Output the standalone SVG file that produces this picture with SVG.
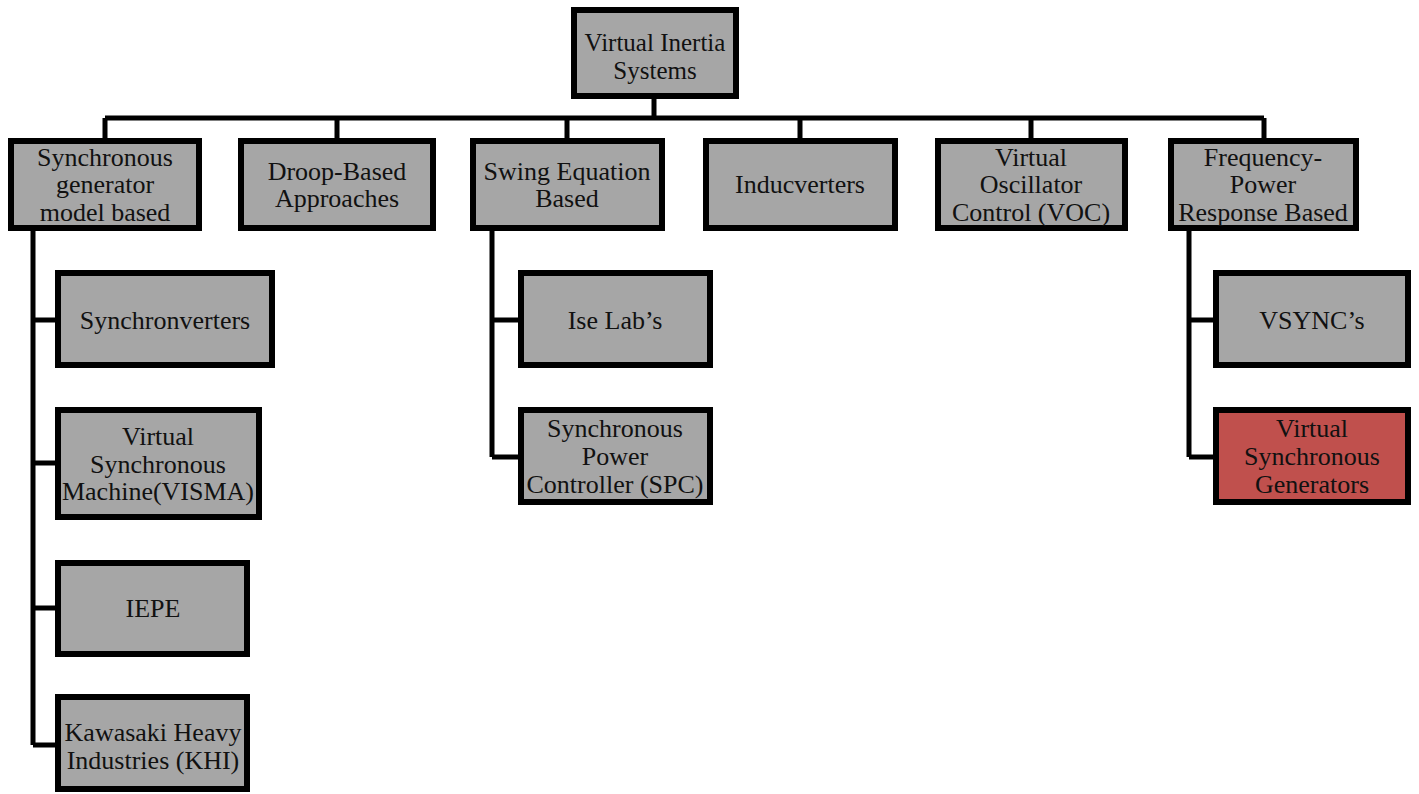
<svg xmlns="http://www.w3.org/2000/svg" width="1419" height="794" viewBox="0 0 1419 794">
<style>
.n{fill:#a6a6a6;stroke:#000;stroke-width:6}
.r{fill:#c0504d;stroke:#000;stroke-width:6}
.t{font-family:"Liberation Serif","DejaVu Serif",serif;font-size:26px;fill:#111;text-anchor:middle}
.c{fill:none;stroke:#000;stroke-width:5}
</style>
<rect width="1419" height="794" fill="#fff"/>
<g id="connectors">
<path class="c" d="M654 97V118M105 118H1264M105 118V138M337 118V138M567 118V138M800 118V138M1031 118V138M1264 118V138"/>
<path class="c" d="M33 229V745M33 320H55M33 463H55M33 608H55M33 745H55"/>
<path class="c" d="M492 229V457M492 320H518M492 457H518"/>
<path class="c" d="M1189 229V457M1189 320H1213M1189 457H1213"/>
</g>
<g id="root"><rect class="n" x="574" y="10" width="162" height="86"/><text class="t" x="655" y="51" style="font-size:25px">Virtual Inertia</text><text class="t" x="655" y="79" style="font-size:25px">Systems</text></g>
<g id="sgmb"><rect class="n" x="11" y="141" width="188" height="87"/><text class="t" x="105" y="166">Synchronous</text><text class="t" x="105" y="193">generator</text><text class="t" x="105" y="221">model based</text></g>
<g id="droop"><rect class="n" x="241" y="141" width="192" height="87"/><text class="t" x="337" y="180">Droop-Based</text><text class="t" x="337" y="207">Approaches</text></g>
<g id="swing"><rect class="n" x="473" y="141" width="189" height="87"/><text class="t" x="567" y="180">Swing Equation</text><text class="t" x="567" y="207">Based</text></g>
<g id="induc"><rect class="n" x="706" y="141" width="189" height="87"/><text class="t" x="800" y="193">Inducverters</text></g>
<g id="voc"><rect class="n" x="938" y="141" width="187" height="87"/><text class="t" x="1031" y="166">Virtual</text><text class="t" x="1031" y="193">Oscillator</text><text class="t" x="1031" y="221">Control (VOC)</text></g>
<g id="fprb"><rect class="n" x="1171" y="141" width="185" height="87"/><text class="t" x="1263" y="166">Frequency-</text><text class="t" x="1263" y="193">Power</text><text class="t" x="1263" y="221">Response Based</text></g>
<g id="synchronverters"><rect class="n" x="58" y="273" width="214" height="92"/><text class="t" x="165" y="329">Synchronverters</text></g>
<g id="visma"><rect class="n" x="58" y="410" width="201" height="107"/><text class="t" x="158" y="445">Virtual</text><text class="t" x="158" y="473">Synchronous</text><text class="t" x="158" y="500">Machine(VISMA)</text></g>
<g id="iepe"><rect class="n" x="58" y="563" width="189" height="91"/><text class="t" x="153" y="617">IEPE</text></g>
<g id="khi"><rect class="n" x="58" y="697" width="189" height="92"/><text class="t" x="153" y="741">Kawasaki Heavy</text><text class="t" x="153" y="769">Industries (KHI)</text></g>
<g id="iselab"><rect class="n" x="521" y="273" width="189" height="92"/><text class="t" x="615" y="329">Ise Lab’s</text></g>
<g id="spc"><rect class="n" x="521" y="410" width="189" height="92"/><text class="t" x="615" y="437">Synchronous</text><text class="t" x="615" y="465">Power</text><text class="t" x="615" y="493">Controller (SPC)</text></g>
<g id="vsync"><rect class="n" x="1216" y="273" width="192" height="92"/><text class="t" x="1312" y="329">VSYNC’s</text></g>
<g id="vsg"><rect class="r" x="1216" y="410" width="192" height="92"/><text class="t" x="1312" y="437">Virtual</text><text class="t" x="1312" y="465">Synchronous</text><text class="t" x="1312" y="493">Generators</text></g>
</svg>
